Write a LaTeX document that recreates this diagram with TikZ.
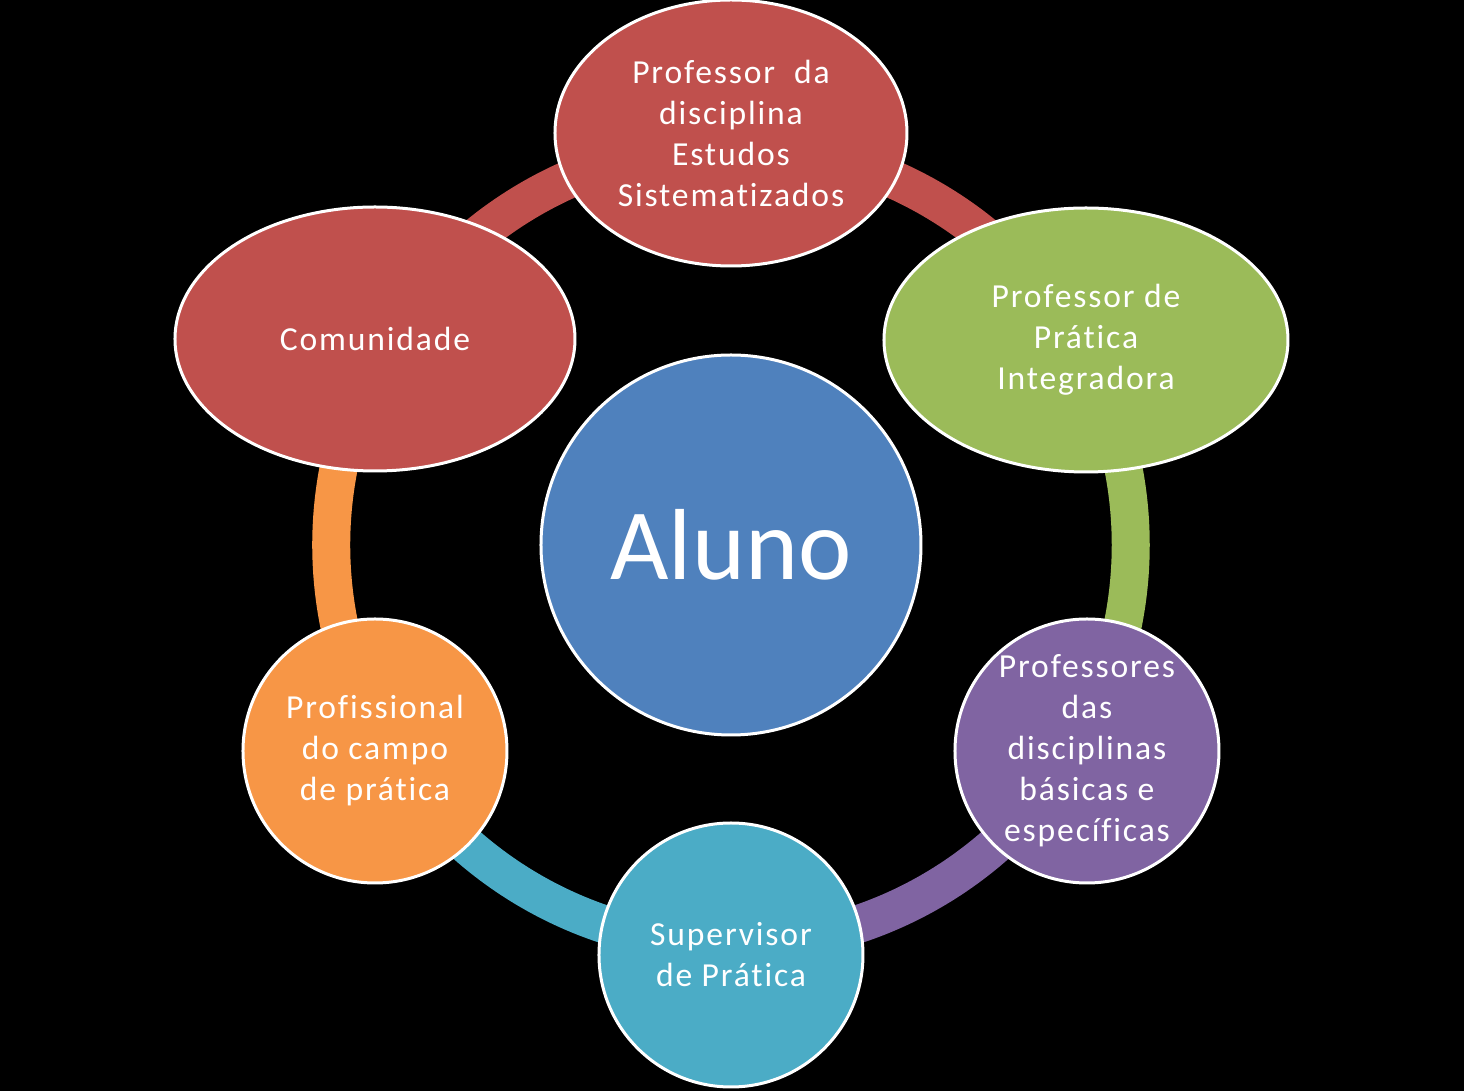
\documentclass[tikz,border=0pt]{standalone}
\usepackage{fontspec}
\setmainfont{Carlito}[Ligatures=NoCommon]
\newfontfamily\bubfont{Carlito}[LetterSpace=5.5, Ligatures=NoCommon]
\usetikzlibrary{shapes.geometric}
\definecolor{acBlue}{HTML}{4F81BD}
\definecolor{acRed}{HTML}{C0504D}
\definecolor{acGreen}{HTML}{9BBB59}
\definecolor{acPurple}{HTML}{8064A2}
\definecolor{acTeal}{HTML}{4BACC6}
\definecolor{acOrange}{HTML}{F79646}
\tikzset{
  bub/.style={draw=white, line width=1.5pt, text=white, align=center, inner sep=0pt,
    font=\bubfont\fontsize{16.8}{20.5}\selectfont},
  ell/.style={bub, ellipse},
  circ/.style={bub, circle},
  ringarc/.style={line width=19pt, bend left=30, looseness=0.912},
}
\begin{document}
\begin{tikzpicture}[x=0.5pt,y=0.5pt]
\path[use as bounding box, fill=black] (-731,-546) rectangle (733,545);
% ring coordinates
\coordinate (a1) at (90:200pt);
\coordinate (a2) at (30:200pt);
\coordinate (a3) at (-30:200pt);
\coordinate (a4) at (-90:200pt);
\coordinate (a5) at (-150:200pt);
\coordinate (a6) at (150:200pt);
\draw[ringarc, acRed] (a1) to (a2);
\draw[ringarc, acGreen] (a2) to (a3);
\draw[ringarc, acPurple] (a3) to (a4);
\draw[ringarc, acTeal] (a4) to (a5);
\draw[ringarc, acOrange] (a5) to (a6);
\draw[ringarc, acRed] (a6) to (a1);
% nodes
\node[circ, fill=acBlue, minimum size=190pt, font=\rmfamily\fontsize{50.5}{60}\selectfont] (aluno) at (0,0) {Aluno};
\node[ell, fill=acRed, minimum width=176pt, minimum height=133pt] (top) at (0,412)
  {Professor\ \ da\\disciplina\\Estudos\\Sistematizados};
\node[ell, fill=acGreen, minimum width=202pt, minimum height=132pt] (green) at (355,205)
  {Professor de\\Prática\\Integradora};
\node[circ, fill=acPurple, minimum size=132pt] (purple) at (356,-206)
  {Professores\\das\\disciplinas\\básicas e\\específicas};
\node[circ, fill=acTeal, minimum size=132pt] (teal) at (0,-410)
  {Supervisor\\de Prática};
\node[circ, fill=acOrange, minimum size=132pt] (orange) at (-356,-206)
  {Profissional\\do campo\\de prática};
\node[ell, fill=acRed, minimum width=200pt, minimum height=132pt] (com) at (-356,206)
  {Comunidade};
\end{tikzpicture}
\end{document}
